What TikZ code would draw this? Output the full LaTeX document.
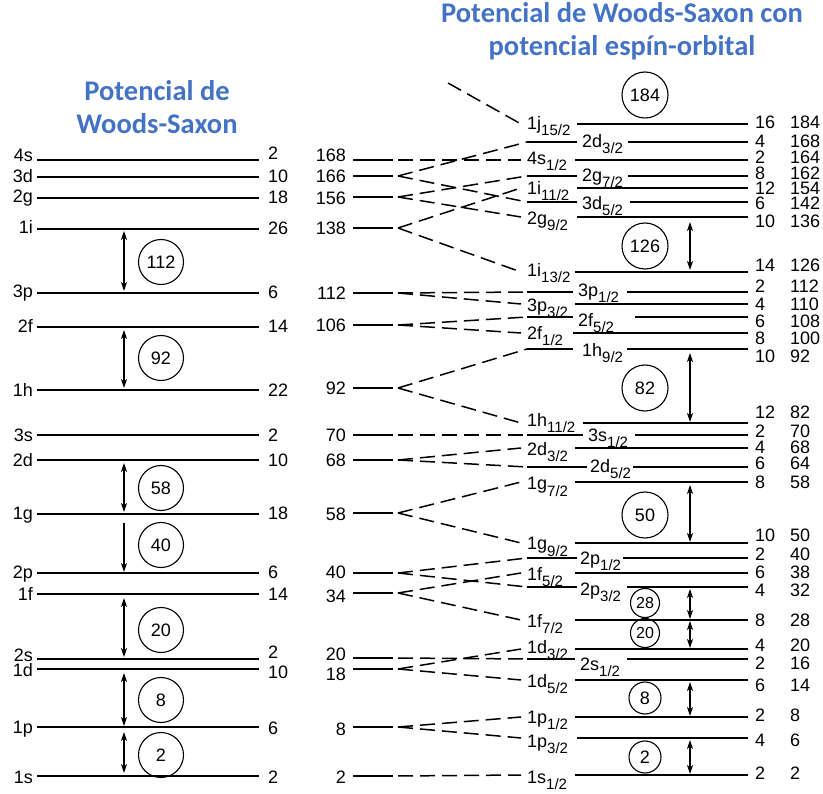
\documentclass[tikz,border=0pt]{standalone}
\usepackage{fontspec}
\setmainfont{Liberation Sans}
\newfontfamily\titlefont{Carlito}
\usetikzlibrary{arrows.meta}
\definecolor{titleblue}{HTML}{4472C4}
\newcommand{\orb}[2]{#1\raisebox{-6pt}{\fontsize{15}{16}\selectfont #2/2}}
\begin{document}
\begin{tikzpicture}[x=1pt,y=-1pt,
  lvl/.style={line width=2.6pt},
  conn/.style={line width=1.5pt, dash pattern=on 15pt off 7pt},
  gap/.style={line width=1.2pt, {Stealth[length=9pt,width=6pt,inset=2.5pt]}-{Stealth[length=9pt,width=6pt,inset=2.5pt]}},
  gapdown/.style={line width=1.2pt, -{Stealth[length=9pt,width=6pt,inset=2.5pt]}},
  magic/.style={circle, draw, line width=1.1pt, minimum size=45pt, inner sep=0pt, font=\fontsize{18}{18}\selectfont},
  smagic/.style={magic, minimum size=29pt, font=\fontsize{16}{16}\selectfont},
  mmagic/.style={magic, minimum size=32pt},
  txt/.style={inner sep=0pt, font=\fontsize{18}{20}\selectfont},
  ttl/.style={inner sep=0pt, font=\titlefont\bfseries\fontsize{28.5}{33}\selectfont, text=titleblue, align=center},
]
\useasboundingbox (0,0) rectangle (823,794);
% titles
\node[ttl] (t1) at (157,107) {Potencial de\\Woods-Saxon};
\node[ttl] (t2) at (622,31) {Potencial de Woods-Saxon con\\potencial espín-orbital};

% left column: Woods-Saxon levels
\foreach \lab/\y/\n/\ol/\on in {4s/160/2/2/0, 3d/177/10/6/6, 2g/198/18/5/6, 1i/229/26/5/6,
  3p/293/6/5/6, 2f/327/14/6/6, 1h/390/22/7/7, 3s/435/2/7/7, 2d/460/10/7/7, 1g/514/18/6/6,
  2p/573/6/5/5, 1f/594/14/6/6, 2s/659/2/2/-1, 1d/669/10/7/9, 1p/727/6/6/7, 1s/776/2/7/7}{
  \draw[lvl] (37,\y) -- (259,\y);
  \node[txt, anchor=base east] (L\lab) at (33,\y+\ol) {\lab};
  \node[txt, anchor=base west] (N\lab) at (268,\y+\on) {\n};
}

% middle column: cumulative numbers
\foreach \num/\y/\off in {168/160/2, 166/176/7, 156/197/8, 138/228/7, 112/293/7, 106/325/7,
  92/388/7, 70/435/7, 68/460/7, 58/513/8, 40/573/5, 34/593/9, 20/658/2, 18/669/11, 8/727/8, 2/776/7}{
  \node[txt, anchor=base east] (M\num) at (346,\y+\off) {\num};
  \draw[lvl] (353,\y) -- (393,\y);
  \coordinate (m\num) at (398,\y);
}

% right column: levels labelled on the left
\foreach \id/\y/\xs/\off/\m/\s/\n/\cum/\ny in {
  r1/124/577/6/1j/15/16/184/123, r3/160/575/5/4s/1/2/164/158, r5/188/577/7/1i/11/12/154/189,
  r7/217/577/8/2g/9/10/136/222, r8/272/575/5/1i/13/14/126/266, r10/304/575/8/3p/3/4/110/305,
  r12/333/573/7/2f/1/8/100/339, r14/423/583/4/1h/11/12/82/413, r16/448/575/8/2d/3/4/68/448,
  r18/482/575/8/1g/7/8/58/483, r19/543/575/7/1g/9/10/50/536, r21/573/575/7/1f/5/6/38/573,
  r23/620/575/7/1f/7/8/28/620, r24/649/575/4/1d/3/4/20/645, r26/680/575/7/1d/5/6/14/685,
  r27/717/575/6/1p/1/2/8/715, r28/738/577/9/1p/3/4/6/740, r29/775/575/8/1s/1/2/2/773}{
  \draw[lvl] (\xs,\y) -- (748,\y);
  \node[txt, anchor=base west] (\id l) at (527,\y+\off) {\orb{\m}{\s}};
  \node[txt, anchor=base west] (\id n) at (755,\ny+6) {\n};
  \node[txt, anchor=base west] (\id c) at (790,\ny+6) {\cum};
  \coordinate (\id) at (521,\y);
}
% right column: levels labelled inside the line
\foreach \id/\y/\se/\xl/\xs/\off/\m/\s/\n/\cum/\ny in {
  r2/142/577/582/628/6/2d/3/4/168/142, r4/176/577/582/628/6/2g/7/8/162/174,
  r6/202/577/582/630/8/3d/5/6/142/204, r9/292/573/578/627/5/3p/1/2/112/287,
  r11/317/573/578/635/10/2f/5/6/108/322, r13/349/573/582/627/8/1h/9/10/92/357,
  r15/435/583/588/635/7/3s/1/2/70/432, r17/467/587/590/633/6/2d/5/6/64/464,
  r20/558/577/580/623/7/2p/1/2/40/555, r22/587/577/580/627/8/2p/3/4/32/591,
  r25/659/575/580/627/11/2s/1/2/16/663}{
  \draw[lvl] (527,\y) -- (\se,\y);
  \node[txt, anchor=base west] (\id l) at (\xl,\y+\off) {\orb{\m}{\s}};
  \draw[lvl] (\xs,\y) -- (748,\y);
  \node[txt, anchor=base west] (\id n) at (755,\ny+6) {\n};
  \node[txt, anchor=base west] (\id c) at (790,\ny+6) {\cum};
  \coordinate (\id) at (527,\y);
}

% dashed correlation lines
\coordinate (jtop) at (448,83);
\foreach \a/\b in {m168/r3, m166/r2, m166/r6, m156/r4, m156/r7, m138/r5, m138/r8,
  m112/r9, m112/r10, m106/r11, m106/r12, m92/r13, m92/r14, m70/r15, m68/r16, m68/r17,
  m58/r18, m58/r19, m40/r20, m40/r22, m34/r21, m34/r23, m20/r25, m18/r24, m18/r26,
  m8/r27, m8/r28, m2/r29, jtop/r1}
  \draw[conn] (\a) -- (\b);

% magic numbers, left
\foreach \v/\y in {112/262, 92/358, 58/488, 40/545, 20/630, 8/700, 2/755}
  \node[magic] (cl\v) at (161,\y) {\v};
% magic numbers, right
\foreach \v/\y in {184/95, 126/246, 82/388, 50/515}
  \node[magic, minimum size=46pt] (cr\v) at (645,\y) {\v};
\foreach \v/\y in {28/603, 20/633}
  \node[smagic] (cr\v) at (645,\y) {\v};
\foreach \v/\y in {8/698, 2/757}
  \node[mmagic] (cr\v) at (645,\y) {\v};

% gap arrows, left
\foreach \id/\ya/\yb in {l112/231/291, l92/330/388, l58/463/512, l20/598/657, l8/673/726, l2/732/773}{
  \coordinate (a\id a) at (124,\ya);
  \coordinate (a\id b) at (124,\yb);
  \draw[gap] (a\id a) -- (a\id b);
}
\coordinate (al40a) at (124,523);
\coordinate (al40b) at (124,572);
\draw[gapdown] (al40a) -- (al40b);
% gap arrows, right
\foreach \id/\ya/\yb in {r126/222/270, r82/353/422, r50/485/542, r28/589/619, r20/621/648, r8/682/716, r2/740/774}{
  \coordinate (a\id a) at (690,\ya);
  \coordinate (a\id b) at (690,\yb);
  \draw[gap] (a\id a) -- (a\id b);
}
\end{tikzpicture}
\end{document}
